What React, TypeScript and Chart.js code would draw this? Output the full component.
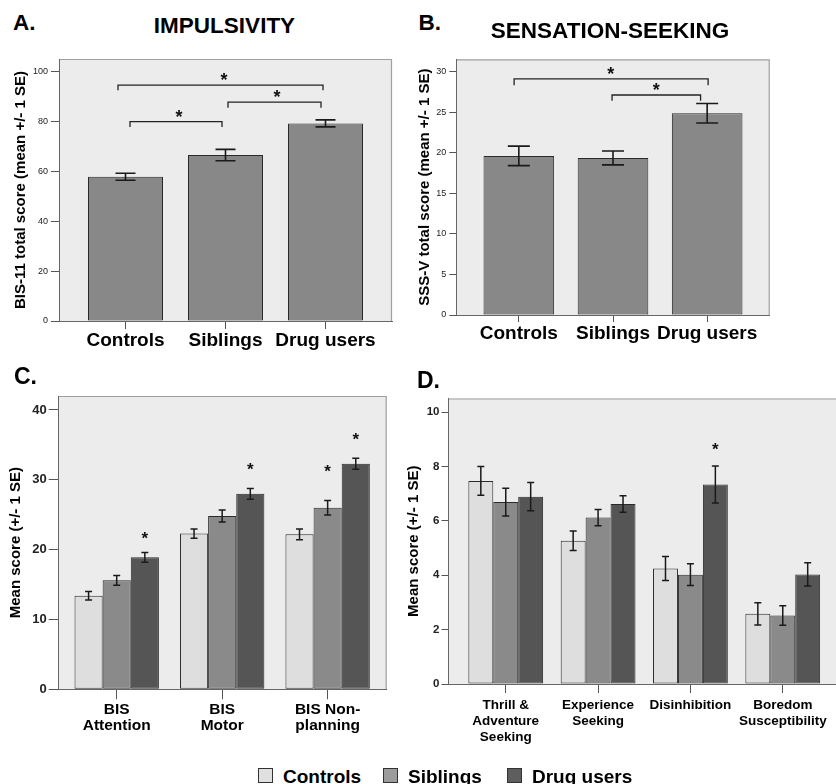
import React, { useEffect, useRef } from 'react';
import { Chart, registerables } from 'chart.js';

Chart.register(...registerables);

const FONT = "'Liberation Sans', Arial, Helvetica, sans-serif";

// ---------- Panel A: Impulsivity ----------
const groupNames = ['Controls', 'Siblings', 'Drug users'];
const aMeans = [57.8, 66.5, 79.2];
const aSE = [1.4, 2.3, 1.4];
const aYTicks = [0, 20, 40, 60, 80, 100];
const aYMax = 105;
// [x from, x to, bracket y, end y]
const aBrackets = [
  [0.045, 0.965, 79.9, 77.7],
  [1.025, 1.955, 87.7, 85.5],
  [-0.075, 1.975, 94.5, 92.5],
];
const aStars = [
  [0.535, 83.5],
  [1.515, 91.5],
  [0.985, 98.4],
];

// ---------- Panel B: Sensation-seeking ----------
const bMeans = [19.6, 19.35, 24.85];
const bSE = [1.2, 0.85, 1.2];
const bYTicks = [0, 5, 10, 15, 20, 25, 30];
const bYMax = 31.5;
const bBrackets = [
  [-0.05, 2.01, 29.1, 28.3],
  [0.99, 1.93, 27.1, 26.4],
];
const bStars = [
  [0.975, 30.2],
  [1.46, 28.2],
];

// ---------- Panel C: BIS subscales ----------
const cCategories = [['BIS', 'Attention'], ['BIS', 'Motor'], ['BIS Non-', 'planning']];
const cControls = [13.4, 22.3, 22.2];
const cControlsSE = [0.6, 0.67, 0.77];
const cSiblings = [15.6, 24.8, 26.0];
const cSiblingsSE = [0.7, 0.86, 1.05];
const cDrug = [18.9, 28.0, 32.3];
const cDrugSE = [0.7, 0.77, 0.79];
const cYTicks = [0, 10, 20, 30, 40];
const cYMax = 42;
// [dataset, category, star y]
const cStars = [
  [2, 0, 22.2],
  [2, 1, 32.0],
  [1, 2, 31.8],
  [2, 2, 36.3],
];

// ---------- Panel D: SSS-V subscales ----------
const dCategories = [
  ['Thrill &', 'Adventure', 'Seeking'],
  ['Experience', 'Seeking'],
  ['Disinhibition'],
  ['Boredom', 'Susceptibility'],
];
const dControls = [7.47, 5.27, 4.25, 2.58];
const dControlsSE = [0.53, 0.36, 0.44, 0.41];
const dSiblings = [6.69, 6.12, 4.02, 2.52];
const dSiblingsSE = [0.51, 0.3, 0.4, 0.36];
const dDrug = [6.89, 6.62, 7.34, 4.03];
const dDrugSE = [0.52, 0.3, 0.68, 0.43];
const dYTicks = [0, 2, 4, 6, 8, 10];
const dYMax = 10.5;
const dStars = [[2, 2, 8.76]];

const COL_CONTROLS = '#dedede';
const COL_SIBLINGS = '#8a8a8a';
const COL_DRUG = '#555555';
const COL_SINGLE = '#888888';

type DecorCfg = {
  values: number[][];
  errors: number[][];
  cap: number;
  errWidth: number;
  brackets?: number[][];
  pointStars?: number[][];
  barStars?: number[][];
  starSize: number;
};

function makeDecor(cfg: DecorCfg) {
  return {
    id: 'decor',
    beforeDraw(chart: any) {
      const { ctx, chartArea: a } = chart;
      ctx.save();
      ctx.fillStyle = '#ececec';
      ctx.fillRect(a.left, a.top, a.right - a.left, a.bottom - a.top);
      ctx.strokeStyle = '#a0a0a0';
      ctx.lineWidth = 1.2;
      ctx.beginPath();
      ctx.moveTo(a.left, a.top + 0.5);
      ctx.lineTo(a.right - 0.5, a.top + 0.5);
      ctx.lineTo(a.right - 0.5, a.bottom);
      ctx.stroke();
      ctx.restore();
    },
    afterDatasetsDraw(chart: any) {
      const { ctx } = chart;
      const xs = chart.scales.x;
      const ys = chart.scales.y;
      ctx.save();
      ctx.strokeStyle = '#1a1a1a';
      ctx.lineWidth = cfg.errWidth;
      cfg.errors.forEach((errs, di) => {
        const meta = chart.getDatasetMeta(di);
        const vals = cfg.values[di];
        meta.data.forEach((bar: any, i: number) => {
          const x = bar.x;
          const t = ys.getPixelForValue(vals[i] + errs[i]);
          const b = ys.getPixelForValue(vals[i] - errs[i]);
          ctx.beginPath();
          ctx.moveTo(x, t);
          ctx.lineTo(x, b);
          ctx.moveTo(x - cfg.cap, t);
          ctx.lineTo(x + cfg.cap, t);
          ctx.moveTo(x - cfg.cap, b);
          ctx.lineTo(x + cfg.cap, b);
          ctx.stroke();
        });
      });
      ctx.strokeStyle = '#222';
      ctx.lineWidth = 1.3;
      (cfg.brackets || []).forEach(([x1, x2, y, ye]) => {
        const p1 = xs.getPixelForValue(x1);
        const p2 = xs.getPixelForValue(x2);
        const py = ys.getPixelForValue(y);
        const pe = ys.getPixelForValue(ye);
        ctx.beginPath();
        ctx.moveTo(p1, pe);
        ctx.lineTo(p1, py);
        ctx.lineTo(p2, py);
        ctx.lineTo(p2, pe);
        ctx.stroke();
      });
      ctx.fillStyle = '#111';
      ctx.font = `bold ${cfg.starSize}px ${FONT}`;
      ctx.textAlign = 'center';
      ctx.textBaseline = 'alphabetic';
      const off = cfg.starSize * 0.56;
      (cfg.pointStars || []).forEach(([x, y]) => {
        ctx.fillText('*', xs.getPixelForValue(x), ys.getPixelForValue(y) + off);
      });
      (cfg.barStars || []).forEach(([di, i, y]) => {
        const bar: any = chart.getDatasetMeta(di).data[i];
        ctx.fillText('*', bar.x, ys.getPixelForValue(y) + off);
      });
      ctx.restore();
    },
  };
}

function xAxis(cats: (string | string[])[], min: number, max: number, font: any, tickLen: number, pad: number, height: number) {
  return {
    type: 'linear',
    min,
    max,
    bounds: 'data',
    offset: false,
    afterBuildTicks: (s: any) => {
      s.ticks = cats.map((_, i) => ({ value: i }));
    },
    afterFit: (s: any) => {
      s.height = height;
    },
    ticks: {
      autoSkip: false,
      maxRotation: 0,
      minRotation: 0,
      padding: pad,
      color: '#000',
      font,
      callback: (v: number) => cats[Math.round(v)],
    },
    grid: { display: true, drawOnChartArea: false, drawTicks: true, tickLength: tickLen, tickColor: '#555', offset: false },
    border: { display: true, color: '#666', width: 1 },
  };
}

function yAxis(ticks: number[], max: number, font: any, tickLen: number, pad: number, width: number, title: string, titlePad: number) {
  return {
    type: 'linear',
    min: 0,
    max,
    bounds: 'data',
    afterBuildTicks: (s: any) => {
      s.ticks = ticks.map((v) => ({ value: v }));
    },
    afterFit: (s: any) => {
      s.width = width;
    },
    ticks: { padding: pad, color: '#222', font, callback: (v: number) => String(v) },
    grid: { display: true, drawOnChartArea: false, drawTicks: true, tickLength: tickLen, tickColor: '#555' },
    border: { display: true, color: '#666', width: 1 },
    title: {
      display: true,
      text: title,
      color: '#000',
      font: { family: FONT, size: 15, weight: 'bold', lineHeight: 1 },
      padding: { top: titlePad, bottom: 0 },
    },
  };
}

const toXY = (vals: number[]) => vals.map((v, i) => ({ x: i, y: v }));

function bar(vals: number[], color: string, catPct: number) {
  return {
    data: toXY(vals),
    backgroundColor: color,
    borderColor: '#2a2a2a',
    borderWidth: 1,
    borderSkipped: false,
    categoryPercentage: catPct,
    barPercentage: 1,
  };
}

function baseOptions(padTop: number, padRight: number, x: any, y: any) {
  return {
    responsive: false,
    animation: false,
    events: [],
    layout: { padding: { top: padTop, right: padRight, left: 0, bottom: 0 } },
    plugins: { legend: { display: false }, tooltip: { enabled: false }, title: { display: false } },
    scales: { x, y },
  };
}

function buildA() {
  return {
    type: 'bar',
    data: { datasets: [bar(aMeans, COL_SINGLE, 0.75)] },
    options: baseOptions(
      19,
      18,
      xAxis(groupNames, -0.665, 2.665, { family: FONT, size: 19, weight: 'bold', lineHeight: 1.2 }, 8, 0, 44),
      yAxis(aYTicks, aYMax, { family: FONT, size: 9 }, 8, 3, 59, 'BIS-11 total score (mean +/- 1 SE)', 13.5)
    ),
    plugins: [makeDecor({ values: [aMeans], errors: [aSE], cap: 10, errWidth: 1.6, brackets: aBrackets, pointStars: aStars, starSize: 18 })],
  };
}

function buildB() {
  return {
    type: 'bar',
    data: { datasets: [bar(bMeans, COL_SINGLE, 0.75)] },
    options: baseOptions(
      19.3,
      40.3,
      xAxis(groupNames, -0.664, 2.664, { family: FONT, size: 19, weight: 'bold', lineHeight: 1.2 }, 7, 0, 45),
      yAxis(bYTicks, bYMax, { family: FONT, size: 9 }, 7, 3, 46.3, 'SSS-V total score (mean +/- 1 SE)', 7.5)
    ),
    plugins: [makeDecor({ values: [bMeans], errors: [bSE], cap: 11, errWidth: 1.6, brackets: bBrackets, pointStars: bStars, starSize: 18 })],
  };
}

function buildC() {
  return {
    type: 'bar',
    data: {
      datasets: [bar(cControls, COL_CONTROLS, 0.8), bar(cSiblings, COL_SIBLINGS, 0.8), bar(cDrug, COL_DRUG, 0.8)],
    },
    options: baseOptions(
      26,
      13.3,
      xAxis(cCategories, -0.55, 2.56, { family: FONT, size: 15.5, weight: 'bold', lineHeight: 1.0 }, 10, 3, 50.7),
      yAxis(cYTicks, cYMax, { family: FONT, size: 13, weight: 'bold' }, 10, 2, 58.7, 'Mean score (+/- 1 SE)', 8.5)
    ),
    plugins: [
      makeDecor({
        values: [cControls, cSiblings, cDrug],
        errors: [cControlsSE, cSiblingsSE, cDrugSE],
        cap: 3.5,
        errWidth: 1.5,
        barStars: cStars,
        starSize: 17,
      }),
    ],
  };
}

function buildD() {
  return {
    type: 'bar',
    data: {
      datasets: [bar(dControls, COL_CONTROLS, 0.81), bar(dSiblings, COL_SIBLINGS, 0.81), bar(dDrug, COL_DRUG, 0.81)],
    },
    options: baseOptions(
      28.5,
      0,
      xAxis(dCategories, -0.62, 3.674, { family: FONT, size: 13.5, weight: 'bold', lineHeight: 1.2 }, 9, 4, 86),
      yAxis(dYTicks, dYMax, { family: FONT, size: 11.5, weight: 'bold' }, 7, 2, 48.5, 'Mean score (+/- 1 SE)', 6)
    ),
    plugins: [
      makeDecor({
        values: [dControls, dSiblings, dDrug],
        errors: [dControlsSE, dSiblingsSE, dDrugSE],
        cap: 3.5,
        errWidth: 1.5,
        barStars: dStars,
        starSize: 17,
      }),
    ],
  };
}

function ChartCanvas(props: { left: number; top: number; width: number; height: number; build: () => any }) {
  const ref = useRef<HTMLCanvasElement>(null);
  useEffect(() => {
    if (!ref.current) return;
    const chart = new Chart(ref.current, props.build());
    return () => chart.destroy();
  }, []);
  return (
    <canvas
      ref={ref}
      width={props.width}
      height={props.height}
      style={{ position: 'absolute', left: props.left, top: props.top, width: props.width, height: props.height }}
    />
  );
}

const textStyle = (s: React.CSSProperties): React.CSSProperties => ({
  position: 'absolute',
  fontFamily: FONT,
  fontWeight: 700,
  lineHeight: 1,
  whiteSpace: 'nowrap',
  color: '#000',
  margin: 0,
  ...s,
});

const legendItems = [
  { label: 'Controls', color: '#e0e0e0' },
  { label: 'Siblings', color: '#9c9c9c' },
  { label: 'Drug users', color: '#5e5e5e' },
];
const legendLefts = [258, 383, 507];

export default function App() {
  Chart.defaults.font.family = FONT;
  return (
    <div
      style={{
        position: 'absolute',
        left: 0,
        top: 0,
        width: 836,
        height: 784,
        overflow: 'hidden',
        background: '#fff',
        fontFamily: FONT,
      }}
    >
      <ChartCanvas left={0} top={40} width={410} height={325} build={buildA} />
      <ChartCanvas left={410} top={40} width={400} height={320} build={buildB} />
      <ChartCanvas left={0} top={370} width={400} height={370} build={buildC} />
      <ChartCanvas left={400} top={370} width={445} height={400} build={buildD} />

      <div style={textStyle({ left: 13, top: 12, fontSize: 22.5 })}>A.</div>
      <div style={textStyle({ left: 224.5, top: 15.4, fontSize: 22.5, transform: 'translateX(-50%)' })}>IMPULSIVITY</div>
      <div style={textStyle({ left: 418.5, top: 12, fontSize: 22.5 })}>B.</div>
      <div style={textStyle({ left: 610, top: 20.4, fontSize: 22.5, transform: 'translateX(-50%)' })}>SENSATION-SEEKING</div>
      <div style={textStyle({ left: 14, top: 365, fontSize: 23 })}>C.</div>
      <div style={textStyle({ left: 417, top: 369, fontSize: 23 })}>D.</div>

      {legendItems.map((it, i) => (
        <div key={it.label} style={{ position: 'absolute', left: legendLefts[i], top: 766.6, display: 'flex', alignItems: 'flex-start' }}>
          <div
            style={{
              width: 15,
              height: 15,
              marginTop: 1.5,
              boxSizing: 'border-box',
              border: '1.5px solid #333',
              background: it.color,
            }}
          />
          <div style={{ marginLeft: 10, fontFamily: FONT, fontWeight: 700, fontSize: 19, lineHeight: 1, color: '#000' }}>{it.label}</div>
        </div>
      ))}
    </div>
  );
}
